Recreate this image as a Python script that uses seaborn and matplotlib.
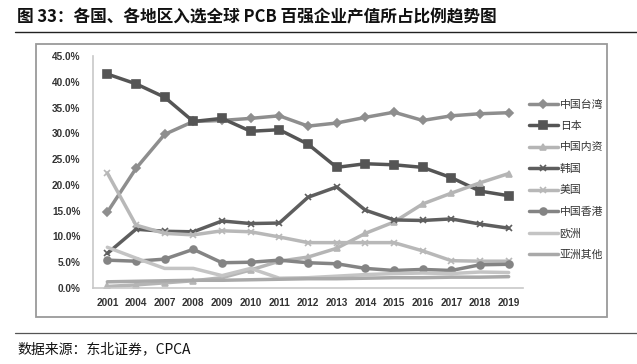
import matplotlib
matplotlib.use("Agg")
import matplotlib.pyplot as plt
import seaborn as sns
import pandas as pd
from matplotlib.patches import Rectangle
from matplotlib.lines import Line2D

sns.set_theme(style="white")
plt.rcParams['font.family'] = ['Noto Sans CJK SC', 'DejaVu Sans']

years = ["2001", "2004", "2007", "2008", "2009", "2010", "2011", "2012",
         "2013", "2014", "2015", "2016", "2017", "2018", "2019"]

taiwan = [14.7, 23.2, 29.8, 32.3, 32.5, 32.9, 33.4, 31.4, 32.0, 33.1, 34.1, 32.5, 33.4, 33.8, 34.0]
japan = [41.5, 39.6, 37.0, 32.3, 32.9, 30.4, 30.7, 27.9, 23.4, 24.1, 23.9, 23.4, 21.4, 18.8, 17.9]
mainland = [0.3, 0.6, 1.0, 1.4, 2.0, 3.5, 5.2, 6.0, 7.7, 10.6, 12.8, 16.3, 18.4, 20.4, 22.2]
korea = [6.7, 11.4, 11.0, 10.9, 13.0, 12.5, 12.6, 17.6, 19.6, 15.1, 13.2, 13.1, 13.4, 12.4, 11.6]
usa = [22.3, 12.2, 10.6, 10.3, 11.1, 10.9, 9.9, 8.8, 8.8, 8.8, 8.8, 7.2, 5.3, 5.2, 5.2]
hongkong = [5.4, 5.2, 5.6, 7.5, 4.9, 5.0, 5.4, 4.9, 4.7, 3.8, 3.4, 3.6, 3.4, 4.5, 4.6]
europe = [7.9, 5.8, 3.8, 3.8, 2.4, 3.8, 1.9, 2.0, 2.3, 2.6, 2.8, 2.9, 2.8, 3.1, 3.0]
asia_other = [1.2, 1.3, 1.4, 1.5, 1.5, 1.6, 1.7, 1.8, 1.8, 1.9, 2.0, 2.0, 2.1, 2.1, 2.2]

names = ["中国台湾", "日本", "中国内资", "韩国", "美国", "中国香港", "欧洲", "亚洲其他"]
values = [taiwan, japan, mainland, korea, usa, hongkong, europe, asia_other]
colors = ["#8e8e8e", "#555555", "#b5b5b5", "#5e5e5e", "#b8b8b8", "#848484", "#c4c4c4", "#a9a9a9"]
markers = ["D", "s", "^", "x", "x", "o", "", ""]
msizes = [4, 6, 5, 5, 5, 5, 0, 0]

rows = []
for n, v in zip(names, values):
    for i, val in enumerate(v):
        rows.append({"series": n, "idx": i, "value": val / 100.0})
df = pd.DataFrame(rows)

W, H = 637, 364
fig = plt.figure(figsize=(W / 100, H / 100), dpi=100)
fig.patch.set_facecolor("white")

# chart box
fig.patches.append(Rectangle((36 / W, 1 - 317 / H), (607 - 36) / W, (317 - 44) / H,
                             transform=fig.transFigure, fill=False,
                             edgecolor="#9a9a9a", linewidth=1.3, zorder=0))

ax = fig.add_axes([93 / W, 1 - 288 / H, (523 - 93) / W, (288 - 56) / H])
ax.set_facecolor("none")

for n, c, m, ms in zip(names, colors, markers, msizes):
    sub = df[df["series"] == n]
    sns.lineplot(data=sub, x="idx", y="value", ax=ax, color=c, linewidth=2.5,
                 marker=m if m else None, markersize=ms, markeredgecolor=c,
                 markeredgewidth=1.2, legend=False)

ax.set_xlim(-0.5, 14.5)
ax.set_ylim(0, 0.45)
ax.set_xticks(range(len(years)))
ax.set_xticklabels(years)
yt = [i * 0.05 for i in range(10)]
ax.set_yticks(yt)
ax.set_yticklabels([f"{t * 100:.1f}%" for t in yt])
ax.set_xlabel("")
ax.set_ylabel("")
for s in ["top", "right"]:
    ax.spines[s].set_visible(False)
for s in ["left", "bottom"]:
    ax.spines[s].set_color("#c8c8c8")
    ax.spines[s].set_linewidth(1.2)
ax.tick_params(axis="both", length=0, labelsize=7.2, colors="#333333")
ax.tick_params(axis="x", pad=7)
ax.tick_params(axis="y", pad=9)
for lab in ax.get_xticklabels() + ax.get_yticklabels():
    lab.set_fontweight("bold")
    lab.set_family(["Liberation Sans", "DejaVu Sans"])
ax.grid(False)

handles = []
for n, c, m, ms in zip(names, colors, markers, msizes):
    handles.append(Line2D([0], [0], color=c, linewidth=2.5,
                          marker=m if m else None, markersize=ms,
                          markeredgecolor=c, markeredgewidth=1.2, label=n))
leg = fig.legend(handles=handles, loc="upper left",
                 bbox_to_anchor=(525 / W, 1 - 95 / H), frameon=False,
                 fontsize=7.8, handlelength=2.6, handletextpad=0.2,
                 labelspacing=1.05, borderaxespad=0)
for t in leg.get_texts():
    t.set_color("#333333")

# title and separators
fig.text(17 / W, 1 - 17 / H, "图 33：各国、各地区入选全球 PCB 百强企业产值所占比例趋势图",
         fontsize=12, fontweight="bold", va="center", ha="left", color="#111111")
fig.add_artist(Line2D([15 / W, 1.0], [1 - 32 / H, 1 - 32 / H], color="#222222", linewidth=1.0))
fig.add_artist(Line2D([15 / W, 1.0], [1 - 333 / H, 1 - 333 / H], color="#555555", linewidth=0.9))
fig.text(17 / W, 1 - 349 / H, "数据来源：东北证券，CPCA", fontsize=10,
         va="center", ha="left", color="#111111")

fig.savefig("out.png", dpi=100, facecolor="white")
